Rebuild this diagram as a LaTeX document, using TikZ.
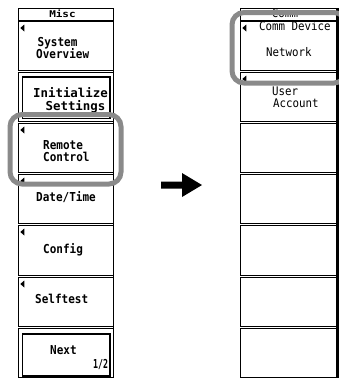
\documentclass[tikz,border=0pt]{standalone}
\usepackage{fontspec}
\usepackage{graphicx}
\newfontfamily\lcd{DejaVu Sans Mono}
\definecolor{hl}{RGB}{138,138,138}
\newcommand\bt[1]{\scalebox{1}[1.12]{\lcd\bfseries\fontsize{11}{11}\selectfont #1}}
\newcommand\btw[1]{\scalebox{1.13}[1.12]{\lcd\bfseries\fontsize{11}{11}\selectfont #1}}
\newcommand\rt[1]{\scalebox{1}[1.1]{\lcd\fontsize{10.8}{10.8}\selectfont #1}}
\tikzset{
  cell/.style={draw=black, line width=0.9pt},
  edge/.style={draw=black, line width=1.8pt},
  raised/.style={draw=black, line width=1.8pt},
  lbl/.style={inner sep=0pt, anchor=base west},
  lblc/.style={inner sep=0pt, anchor=base},
  hilite/.style={draw=hl, line width=5pt, rounded corners=12pt},
}
\begin{document}
\begin{tikzpicture}[x=1pt,y=-1pt]
\useasboundingbox (0,0) rectangle (339,381);
% ---------- left panel ----------
\draw[cell] (18,8) rectangle (113,20);
\foreach \t/\b in {20/71,71/122,122/173,173/224,224/276,276/327,327/378} {
  \draw[cell] (18,\t+1) rectangle (113,\b-1);
}
\draw[edge] (113.5,8) -- (113.5,378);
\draw[raised] (22.5,77) rectangle (110,118.5);
\draw[raised] (22.5,334) rectangle (110,376);
\foreach \t in {20,122,173,224,276} {
  \fill (20.3,\t+8) -- (24.3,\t+4.5) -- (24.3,\t+11.5) -- cycle;
}
\node[lblc] (misc) at (62.5,17.5) {\scalebox{1}[0.85]{\lcd\bfseries\fontsize{11}{11}\selectfont Misc}};
\node[lbl] (sys1) at (37.5,46) {\bt{System}};
\node[lbl] (sys2) at (36,58.2) {\bt{Overview}};
\node[lblc] (ini1) at (70.5,97) {\btw{Initialize}};
\node[lblc] (ini2) at (75.5,110.5) {\btw{Settings}};
\node[lbl] (rem1) at (43,149) {\bt{Remote}};
\node[lbl] (rem2) at (43,161.5) {\bt{Control}};
\node[lbl] (date) at (36,201) {\bt{Date/Time}};
\node[lbl] (conf) at (43,253) {\bt{Config}};
\node[lbl] (self) at (35,303) {\bt{Selftest}};
\node[lbl] (next) at (50,354) {\bt{Next}};
\node[inner sep=0pt, anchor=base east] (page) at (108.3,368) {\scalebox{0.75}[1.12]{\lcd\bfseries\fontsize{11}{11}\selectfont 1/2}};
% ---------- right panel ----------
\draw[cell] (240,8) rectangle (336,20);
\foreach \t/\b in {20/71,71/122,122/173,173/224,224/276,276/327,327/378} {
  \draw[cell] (240,\t+1) rectangle (336,\b-1);
}
\draw[line width=3pt] (337.5,8) -- (337.5,378);
\foreach \t in {20,71} {
  \fill (242.3,\t+8) -- (246.3,\t+4.5) -- (246.3,\t+11.5) -- cycle;
}
\node[lblc] (comm) at (285,17.5) {\rt{Comm}};
\node[lbl] (dev) at (259,30.5) {\rt{Comm Device}};
\node[lbl] (net) at (266,56) {\rt{Network}};
\node[lbl] (usr1) at (272,95) {\rt{User}};
\node[lbl] (usr2) at (273,107.5) {\rt{Account}};
% ---------- highlights ----------
\draw[hilite] (10,114.5) rectangle (121,184);
\draw[hilite] (232,12.5) rectangle (346,83);
% ---------- block arrow ----------
\fill (161,181.5) -- (182,181.5) -- (182,173) -- (202,185) -- (182,197) -- (182,188.5) -- (161,188.5) -- cycle;
\end{tikzpicture}
\end{document}
